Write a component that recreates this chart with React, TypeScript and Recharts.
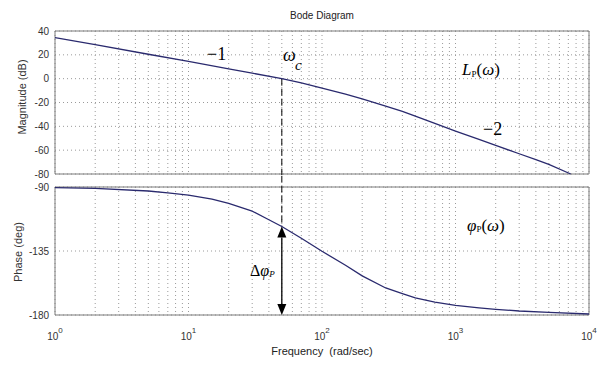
import React from 'react';
import { LineChart, Line, XAxis, YAxis, CartesianGrid, ReferenceLine, ReferenceArea } from 'recharts';

// frequencies (rad/sec)
const magFreq = [1, 2, 5, 10, 20, 30, 50, 70, 100, 150, 200, 300, 400, 500, 700, 1000, 1500, 2000, 3000, 4000, 5000, 7300];
const magDb = [34.5, 28.5, 20.5, 14.5, 8.3, 4.6, 0, -3.6, -8, -13, -17, -23, -27.5, -31.5, -37.5, -44, -51, -56, -63, -68, -72, -80];

const phaseFreq = [1, 2, 5, 7, 10, 15, 20, 30, 40, 50, 70, 100, 150, 200, 300, 400, 500, 700, 1000, 1500, 2000, 3000, 5000, 10000];
const phaseDeg = [-90.5, -91, -92.8, -94.2, -95.7, -98.5, -101.5, -107, -113, -117.8, -126, -135.2, -145, -152.5, -161, -165, -168, -171, -173.3, -175, -176, -177.2, -178.2, -179.3];

const freqTicks = [
  1, 2, 3, 4, 5, 6, 7, 8, 9,
  10, 20, 30, 40, 50, 60, 70, 80, 90,
  100, 200, 300, 400, 500, 600, 700, 800, 900,
  1000, 2000, 3000, 4000, 5000, 6000, 7000, 8000, 9000,
  10000,
];
const decades = [1, 10, 100, 1000, 10000];
const decadeExp = ['0', '1', '2', '3', '4'];

const magTicks = [-80, -60, -40, -20, 0, 20, 40];
const phaseTicks = [-180, -135, -90];

const crossFreq = 50;
const crossPhase = phaseDeg[phaseFreq.indexOf(crossFreq)];

const magData = magFreq.map((f, i) => ({ f, mag: magDb[i] }));
const phaseData = phaseFreq.map((f, i) => ({ f, ph: phaseDeg[i] }));

const sans = '"Liberation Sans", Arial, sans-serif';
const serif = '"Liberation Serif", "DejaVu Serif", serif';
const lineColor = '#2a2a6e';
const gridColor = '#9a9a9a';
const textColor = '#333';

const EmptyTick = () => <g />;

const FreqTick = (props: any) => {
  const { x, y, payload } = props;
  const idx = decades.indexOf(payload.value);
  if (idx < 0) return <g />;
  return (
    <text x={x} y={y + 17} textAnchor="middle" fontSize={10} fontFamily={sans} fill={textColor}>
      10
      <tspan dy={-7} fontSize={8}>{decadeExp[idx]}</tspan>
    </text>
  );
};

const DoubleArrow = (props: any) => {
  const { x1, y1, x2, y2 } = props;
  const head = 11;
  const half = 4.5;
  return (
    <g>
      <line x1={x1} y1={y1 + head} x2={x2} y2={y2 - head} stroke="#000" strokeWidth={1.3} />
      <polygon points={`${x1},${y1} ${x1 - half},${y1 + head} ${x1 + half},${y1 + head}`} fill="#000" />
      <polygon points={`${x2},${y2} ${x2 - half},${y2 - head} ${x2 + half},${y2 - head}`} fill="#000" />
    </g>
  );
};

const rotLabel = (text: string, cx: number, cy: number) => (
  <div
    style={{
      position: 'absolute',
      left: cx,
      top: cy,
      transform: 'translate(-50%, -50%) rotate(-90deg)',
      whiteSpace: 'nowrap',
      fontFamily: sans,
      fontSize: 11,
      color: textColor,
    }}
  >
    {text}
  </div>
);

export default function App() {
  return (
    <div style={{ position: 'absolute', left: 0, top: 0, width: 611, height: 373, background: '#fff', overflow: 'hidden' }}>
      <div style={{ position: 'absolute', left: 55, width: 534, top: 10, textAlign: 'center', fontFamily: sans, fontSize: 10, color: '#222' }}>
        Bode Diagram
      </div>

      <div style={{ position: 'absolute', left: 0, top: 0 }}>
        <LineChart width={611} height={182} data={magData} margin={{ top: 31, right: 22, bottom: 8, left: 0 }}>
          <CartesianGrid stroke={gridColor} strokeDasharray="1 3" />
          <XAxis
            dataKey="f"
            type="number"
            scale="log"
            domain={[1, 10000]}
            ticks={freqTicks}
            interval={0}
            height={0}
            tick={EmptyTick}
            tickLine={false}
            axisLine={false}
            allowDataOverflow
          />
          <YAxis
            type="number"
            domain={[-80, 40]}
            ticks={magTicks}
            interval={0}
            width={55}
            tickSize={0}
            tickMargin={6}
            tickLine={false}
            axisLine={false}
            tick={{ fontSize: 10, fontFamily: sans, fill: textColor }}
          />
          <ReferenceArea x1={1} x2={10000} y1={-80} y2={40} fill="none" fillOpacity={0} stroke="#7a7a7a" strokeWidth={1} />
          <ReferenceLine
            segment={[{ x: crossFreq, y: 0 }, { x: crossFreq, y: -81 }]}
            stroke="#000"
            strokeDasharray="7 3"
            ifOverflow="visible"
          />
          <Line dataKey="mag" type="linear" dot={false} stroke={lineColor} strokeWidth={1.3} isAnimationActive={false} />
        </LineChart>
      </div>

      <div style={{ position: 'absolute', left: 0, top: 176 }}>
        <LineChart width={611} height={197} data={phaseData} margin={{ top: 11, right: 22, bottom: 0, left: 0 }}>
          <CartesianGrid stroke={gridColor} strokeDasharray="1 3" />
          <XAxis
            dataKey="f"
            type="number"
            scale="log"
            domain={[1, 10000]}
            ticks={freqTicks}
            interval={0}
            height={58}
            tick={FreqTick}
            tickLine={false}
            axisLine={false}
          />
          <YAxis
            type="number"
            domain={[-180, -90]}
            ticks={phaseTicks}
            interval={0}
            width={55}
            tickSize={0}
            tickMargin={6}
            tickLine={false}
            axisLine={false}
            tick={{ fontSize: 10, fontFamily: sans, fill: textColor }}
          />
          <ReferenceArea x1={1} x2={10000} y1={-180} y2={-90} fill="none" fillOpacity={0} stroke="#7a7a7a" strokeWidth={1} />
          <ReferenceLine
            segment={[{ x: crossFreq, y: -82 }, { x: crossFreq, y: crossPhase }]}
            stroke="#000"
            strokeDasharray="7 3"
            ifOverflow="visible"
          />
          <ReferenceLine
            segment={[{ x: crossFreq, y: crossPhase }, { x: crossFreq, y: -180 }]}
            shape={DoubleArrow}
            ifOverflow="visible"
          />
          <Line dataKey="ph" type="linear" dot={false} stroke={lineColor} strokeWidth={1.3} isAnimationActive={false} />
        </LineChart>
      </div>

      {rotLabel('Magnitude (dB)', 22, 97)}
      {rotLabel('Phase (deg)', 18, 252)}

      <div style={{ position: 'absolute', left: 55, width: 534, top: 345, textAlign: 'center', fontFamily: sans, fontSize: 11, color: '#222', whiteSpace: 'pre' }}>
        {'Frequency  (rad/sec)'}
      </div>

      <svg width={611} height={373} style={{ position: 'absolute', left: 0, top: 0, pointerEvents: 'none' }}>
        <text x={207} y={60} fontFamily={serif} fontSize={18} fill="#000">−1</text>
        <text x={283} y={61} fontFamily={serif} fontSize={18} fontStyle="italic" fill="#000">ω</text>
        <text x={295} y={70} fontFamily={serif} fontSize={15} fontStyle="italic" fill="#000">c</text>
        <text x={462} y={75} fontFamily={serif} fontSize={17} fill="#000">
          <tspan fontStyle="italic">L</tspan>
          <tspan fontSize={9} dy={2}>P</tspan>
          <tspan dy={-2}>(</tspan>
          <tspan fontStyle="italic">ω</tspan>
          <tspan>)</tspan>
        </text>
        <text x={483} y={135} fontFamily={serif} fontSize={18} fill="#000">−2</text>
        <text x={467} y={231} fontFamily={serif} fontSize={17} fill="#000">
          <tspan fontStyle="italic">φ</tspan>
          <tspan fontSize={9} dy={1}>P</tspan>
          <tspan dy={-1}>(</tspan>
          <tspan fontStyle="italic">ω</tspan>
          <tspan>)</tspan>
        </text>
        <text x={250} y={276} fontFamily={serif} fontSize={16} fill="#000">
          Δ<tspan fontStyle="italic">φ</tspan>
          <tspan fontSize={9} fontStyle="italic" dy={1}>P</tspan>
        </text>
      </svg>
    </div>
  );
}
